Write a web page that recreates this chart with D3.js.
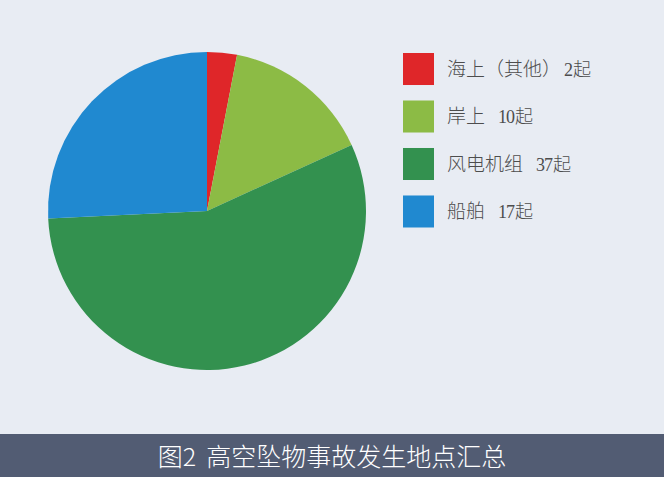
<!DOCTYPE html>
<html>
<head>
<meta charset="utf-8">
<script src="https://d3js.org/d3.v7.min.js"></script>
<style>
  body { margin: 0; background: #e8ecf3; }
  svg { display: block; }
</style>
</head>
<body>
<svg id="chart" width="664" height="477"></svg>
<script>
  const categories = ["海上（其他）", "岸上", "风电机组", "船舶"];
  const counts = [2, 10, 37, 17];
  const colors = ["#df2629", "#8cbb45", "#33914f", "#2089d0"];
  const title = "图2 高空坠物事故发生地点汇总";

  const svg = d3.select("#chart");
  svg.append("rect").attr("width", 664).attr("height", 477).attr("fill", "#e8ecf3");

  const pie = d3.pie().sort(null).value(d => d)(counts);
  const arc = d3.arc().innerRadius(0).outerRadius(159);

  svg.append("g")
    .attr("transform", "translate(207,211)")
    .selectAll("path")
    .data(pie)
    .join("path")
      .attr("d", arc)
      .attr("fill", (d, i) => colors[i]);

  // legend
  const y = d3.scaleBand().domain(d3.range(categories.length)).range([53, 227.5]).paddingInner(0.326);
  const leg = svg.append("g").selectAll("g")
    .data(categories)
    .join("g")
      .attr("transform", (d, i) => "translate(403," + y(i) + ")");
  leg.append("rect")
    .attr("width", 31).attr("height", y.bandwidth())
    .attr("fill", (d, i) => colors[i]);
  const t = leg.append("text")
    .attr("x", 44).attr("y", 23)
    .attr("fill", "#4d4d4d")
    .style("font-size", "19px")
    .style("font-family", "'Noto Sans CJK SC'")
    .style("font-weight", 300);
  t.append("tspan").text(d => d);
  t.append("tspan").attr("dx", (d, i) => i == 0 ? 3 : 13)
    .style("font-family", "'Liberation Serif', serif")
    .style("font-size", "18px")
    .style("letter-spacing", "-1px")
    .style("font-weight", 400)
    .text((d, i) => counts[i]);
  t.append("tspan").attr("dx", 1).style("font-size", "18px").text("起");

  // banner
  svg.append("rect").attr("y", 434).attr("width", 664).attr("height", 43).attr("fill", "#525c73");
  const bt = svg.append("text")
    .attr("x", 332).attr("y", 466)
    .attr("text-anchor", "middle")
    .attr("fill", "#ffffff")
    .style("font-size", "25px")
    .style("font-family", "'Noto Sans CJK SC'")
    .style("font-weight", 300);
  title.split(" ").forEach((s, i) => {
    bt.append("tspan").attr("dx", i ? 10 : 0).text(s);
  });
</script>
</body>
</html>
